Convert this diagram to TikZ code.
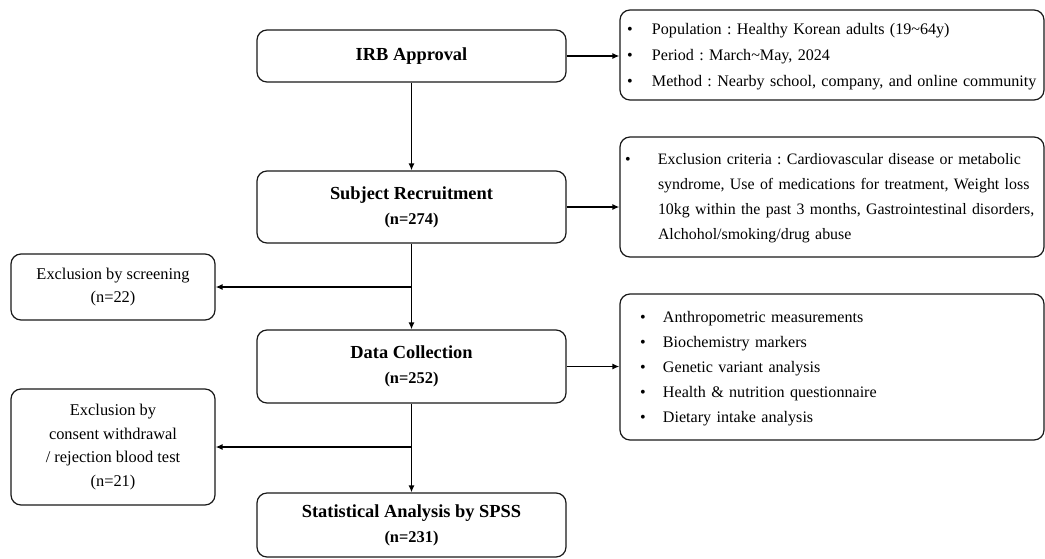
\documentclass[tikz,border=0pt]{standalone}
\usepackage{fontspec}
\setmainfont{Liberation Serif}
\usetikzlibrary{arrows.meta}
\frenchspacing
\begin{document}
\begin{tikzpicture}[x=1pt,y=-1pt,
  box/.style={draw=black!90, line width=1.2pt, rounded corners=10pt, inner sep=0pt},
  mainbox/.style={box, minimum width=309pt, align=center, font=\fontsize{18.4}{25}\selectfont\bfseries},
  sidebox/.style={box, minimum width=204pt, align=center, font=\fontsize{16.4}{23.5}\selectfont},
  listbox/.style={box, minimum width=424pt, text width=424pt, align=left},
  conn/.style={line width=1.4pt, -{Latex[length=7pt,width=6pt]}}]
\useasboundingbox (0,0) rectangle (1045,558);

\node[mainbox, minimum height=52pt] (irb) at (411.5,56) {IRB Approval};
\node[mainbox, minimum height=72pt] (subj) at (411.5,207) {Subject Recruitment\\{\fontsize{16.4}{25}\selectfont (n=274)}};
\node[mainbox, minimum height=73pt] (data) at (411.5,366.5) {Data Collection\\{\fontsize{16.4}{25}\selectfont (n=252)}};
\node[mainbox, minimum height=64pt] (stat) at (411.5,525) {Statistical Analysis by SPSS\\{\fontsize{16.4}{25}\selectfont (n=231)}};

\node[sidebox, minimum height=66pt] (scr) at (113,287) {Exclusion by screening\\(n=22)};
\node[sidebox, minimum height=116pt] (cons) at (113,447) {Exclusion by\\consent withdrawal\\/ rejection blood test\\(n=21)};

\node[listbox, minimum height=90pt, font=\fontsize{16.1}{26}\selectfont] (r1) at (832,55) {\hspace*{7pt}\begin{tabular}{@{}p{25pt}@{}l@{}}
\textbullet & Population : Healthy Korean adults (19\textasciitilde 64y)\\
\textbullet & Period : March\textasciitilde May, 2024\\
\textbullet & Method : Nearby school, company, and online community
\end{tabular}};

\node[listbox, minimum height=120pt, font=\fontsize{15.9}{25}\selectfont] (r2) at (832,197) {\hspace*{5pt}\begin{tabular}{@{}p{33pt}@{}l@{}}
\textbullet & Exclusion criteria : Cardiovascular disease or metabolic\\
 & syndrome, Use of medications for treatment, Weight loss\\
 & 10kg within the past 3 months, Gastrointestinal disorders,\\
 & Alchohol/smoking/drug abuse
\end{tabular}};

\node[listbox, minimum height=146pt, font=\fontsize{16.1}{25}\selectfont] (r3) at (832,367) {\hspace*{20pt}\begin{tabular}{@{}p{23pt}@{}l@{}}
\textbullet & Anthropometric measurements\\
\textbullet & Biochemistry markers\\
\textbullet & Genetic variant analysis\\
\textbullet & Health \& nutrition questionnaire\\
\textbullet & Dietary intake analysis
\end{tabular}};

\draw[conn] (irb) -- (subj);
\draw[conn] (subj) -- (data);
\draw[conn] (data) -- (stat);
\draw[conn] (irb.east) -- (irb.east -| r1.west);
\draw[conn] (subj.east) -- (subj.east -| r2.west);
\draw[conn] (data.east) -- (data.east -| r3.west);
\draw[conn] (subj.south |- scr.east) -- (scr.east);
\draw[conn] (data.south |- cons.east) -- (cons.east);
\end{tikzpicture}
\end{document}
